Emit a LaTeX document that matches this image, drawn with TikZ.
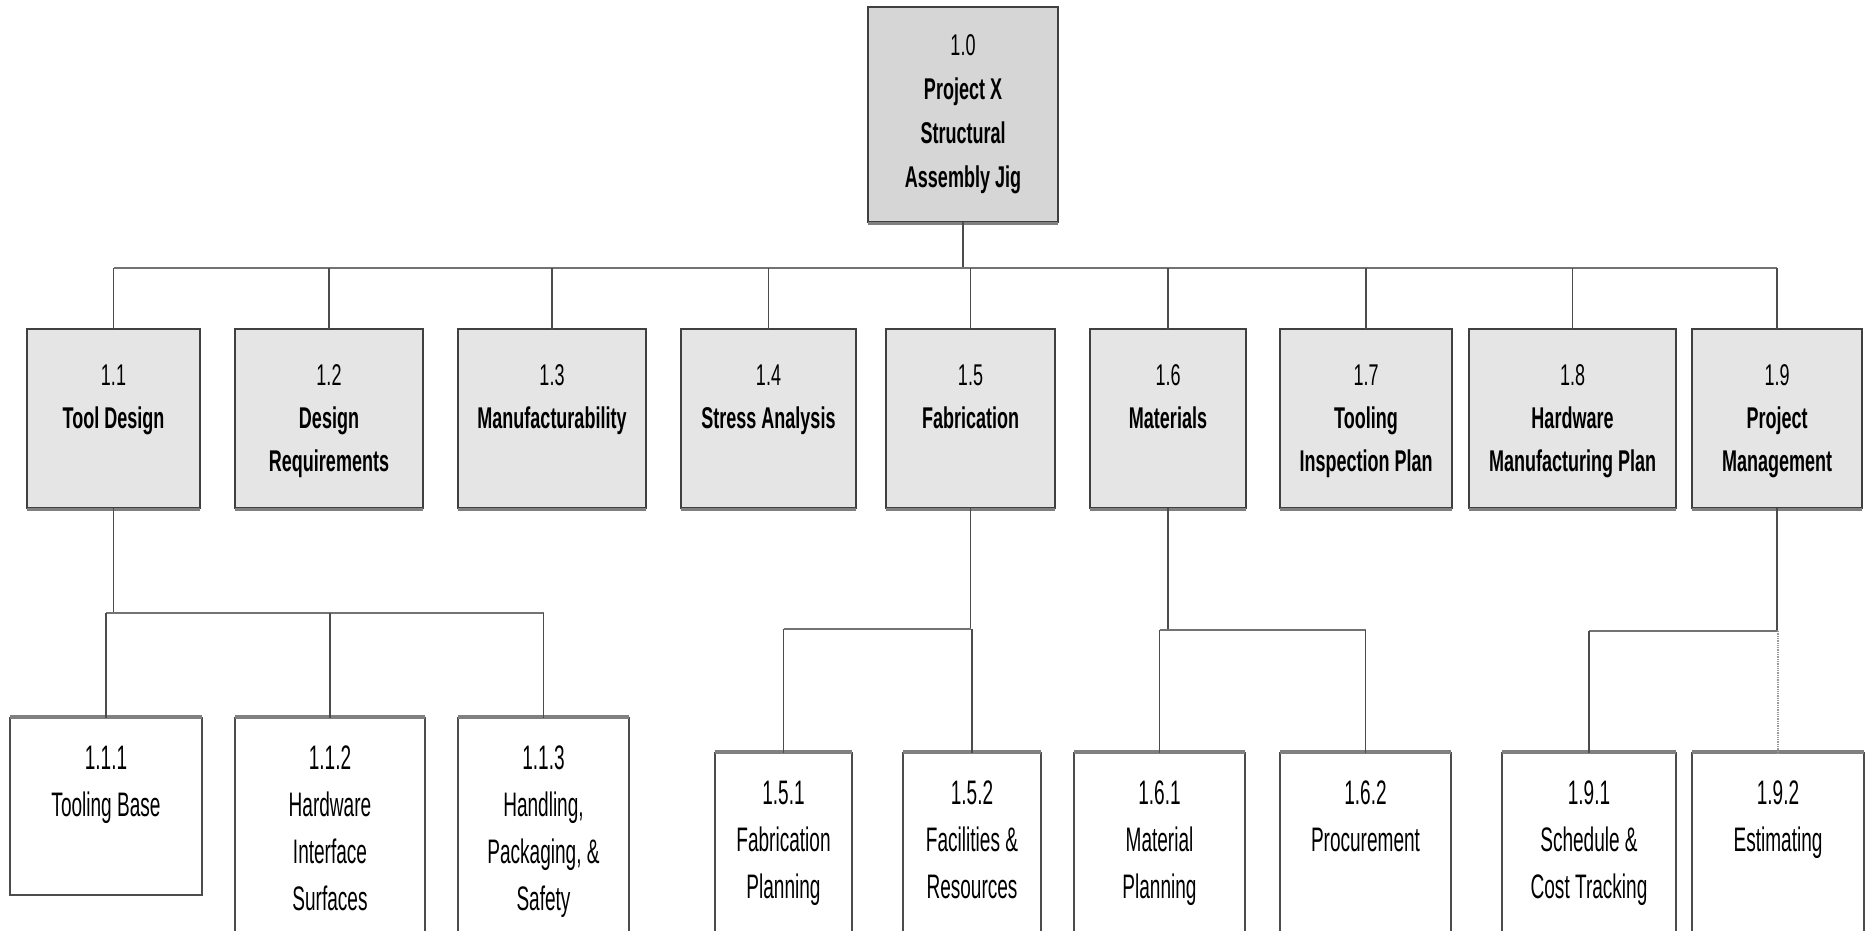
\documentclass[tikz,border=0pt]{standalone}
\usepackage{fontspec}
\setmainfont{Liberation Sans}[FakeStretch=0.6]
\newfontfamily\narrowfont{Liberation Sans}[FakeStretch=0.56]
\usetikzlibrary{calc}

% \wbs{name}{style}{left}{top}{right}{bottom}{first baseline}{text}
\newcommand\wbs[8]{%
  \node[#2, anchor=north west] (#1) at (#3,#4)
    {\parbox[t][\dimexpr#6pt-#4pt\relax][t]{\dimexpr#5pt-#3pt\relax}%
      {\centering\rule{0pt}{#7pt}#8\par}};}

\tikzset{
  wbsbox/.style={inner sep=0pt, outer sep=0pt, draw=black!75, line width=1.5pt},
  rootbox/.style={wbsbox, fill=black!16, font=\fontsize{30}{44}\selectfont,
    append after command={([yshift=-1.5pt]\tikzlastnode.south west) edge[draw=black!50, line width=3.5pt] ([yshift=-1.5pt]\tikzlastnode.south east)}},
  lvlone/.style={wbsbox, fill=black!10, font=\fontsize{30}{43}\selectfont,
    append after command={([yshift=-1.5pt]\tikzlastnode.south west) edge[draw=black!50, line width=3.5pt] ([yshift=-1.5pt]\tikzlastnode.south east)}},
  lvltwo/.style={wbsbox, fill=white, draw=black!70, line width=1.2pt, font=\narrowfont\fontsize{34}{47}\selectfont,
    append after command={([yshift=1pt]\tikzlastnode.north west) edge[draw=black!50, line width=3.5pt] ([yshift=1pt]\tikzlastnode.north east)}},
  conn/.style={draw=black!70, line width=1.5pt},
  busline/.style={draw=black!55, line width=2.5pt},
  faintconn/.style={draw=black!40, line width=1.3pt, densely dotted},
}

\begin{document}
\begin{tikzpicture}[x=1pt, y=-1pt]
\useasboundingbox (0,0) rectangle (1866,930);
\clip (0,0) rectangle (1866,930);

% root
\wbs{n10}{rootbox}{868}{7}{1058}{222}{48}{1.0\\\textbf{Project X}\\\textbf{Structural}\\\textbf{Assembly Jig}}

% first level
\wbs{n11}{lvlone}{27}{329}{200}{508}{56}{1.1\\\textbf{Tool Design}}
\wbs{n12}{lvlone}{235}{329}{423}{508}{56}{1.2\\\textbf{Design}\\\textbf{Requirements}}
\wbs{n13}{lvlone}{458}{329}{646}{508}{56}{1.3\\\textbf{Manufacturability}}
\wbs{n14}{lvlone}{681}{329}{856}{508}{56}{1.4\\\textbf{Stress Analysis}}
\wbs{n15}{lvlone}{886}{329}{1055}{508}{56}{1.5\\\textbf{Fabrication}}
\wbs{n16}{lvlone}{1090}{329}{1246}{508}{56}{1.6\\\textbf{Materials}}
\wbs{n17}{lvlone}{1280}{329}{1452}{508}{56}{1.7\\\textbf{Tooling}\\\textbf{Inspection Plan}}
\wbs{n18}{lvlone}{1469}{329}{1676}{508}{56}{1.8\\\textbf{Hardware}\\\textbf{Manufacturing Plan}}
\wbs{n19}{lvlone}{1692}{329}{1862}{508}{56}{1.9\\\textbf{Project}\\\textbf{Management}}

% second level
\wbs{n111}{lvltwo}{10}{718}{202}{895}{51}{1.1.1\\Tooling Base}
\wbs{n112}{lvltwo}{235}{718}{425}{960}{51}{1.1.2\\Hardware\\Interface\\Surfaces}
\wbs{n113}{lvltwo}{458}{718}{629}{960}{51}{1.1.3\\Handling,\\Packaging, \&\\Safety}
\wbs{n151}{lvltwo}{715}{753}{852}{960}{51}{1.5.1\\Fabrication\\Planning}
\wbs{n152}{lvltwo}{903}{753}{1041}{960}{51}{1.5.2\\Facilities \&\\Resources}
\wbs{n161}{lvltwo}{1074}{753}{1245}{960}{51}{1.6.1\\Material\\Planning}
\wbs{n162}{lvltwo}{1280}{753}{1451}{960}{51}{1.6.2\\Procurement}
\wbs{n191}{lvltwo}{1502}{753}{1676}{960}{51}{1.9.1\\Schedule \&\\Cost Tracking}
\wbs{n192}{lvltwo}{1692}{753}{1864}{960}{51}{1.9.2\\Estimating}

% bus heights
\coordinate (bus0) at (0,268);
\coordinate (bus1) at (0,613);
\coordinate (bus5) at (0,629);
\coordinate (bus6) at (0,630);
\coordinate (bus9) at (0,631);

% root to first level
\draw[conn] (n10.south) -- (n10.south |- bus0);
\draw[busline] (n11.north |- bus0) -- (n19.north |- bus0);
\foreach \c in {n11,n12,n13,n14,n15,n16,n17,n18,n19}
  \draw[conn] (\c.north |- bus0) -- (\c.north);

% 1.1 children
\draw[conn] (n11.south) -- (n11.south |- bus1);
\draw[busline] (n111.north |- bus1) -- (n113.north |- bus1);
\foreach \c in {n111,n112,n113}
  \draw[conn] (\c.north |- bus1) -- (\c.north);

% 1.5 children
\draw[conn] (n15.south) -- (n15.south |- bus5);
\draw[busline] (n151.north |- bus5) -- (n15.south |- bus5);
\draw[conn] (n151.north |- bus5) -- (n151.north);
\draw[conn] (n152.north |- bus5) -- (n152.north);

% 1.6 children
\draw[conn] (n16.south) -- (n16.south |- bus6);
\draw[busline] (n161.north |- bus6) -- (n162.north |- bus6);
\draw[conn] (n161.north |- bus6) -- (n161.north);
\draw[conn] (n162.north |- bus6) -- (n162.north);

% 1.9 children
\draw[conn] (n19.south) -- (n19.south |- bus9);
\draw[busline] (n191.north |- bus9) -- (n192.north |- bus9);
\draw[conn] (n191.north |- bus9) -- (n191.north);
\draw[faintconn] (n192.north |- bus9) -- (n192.north);
\end{tikzpicture}
\end{document}
